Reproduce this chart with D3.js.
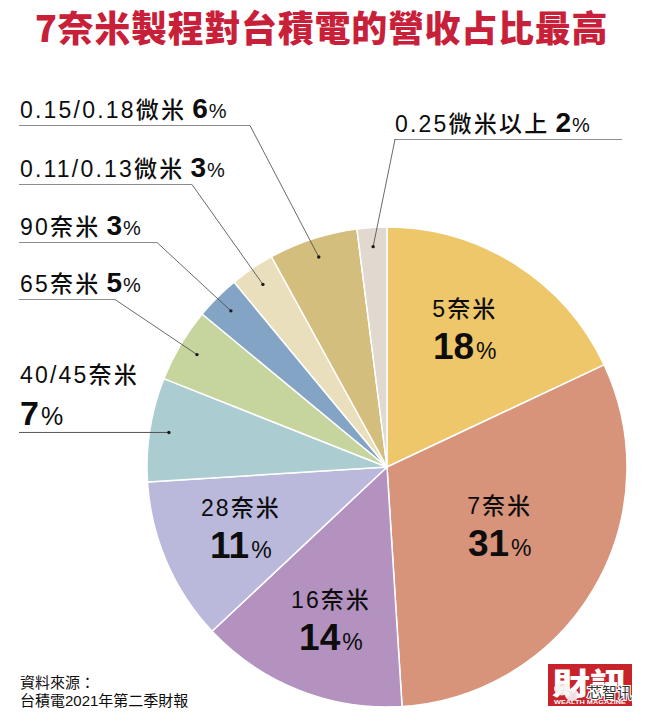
<!DOCTYPE html>
<html>
<head>
<meta charset="utf-8">
<script src="https://cdn.jsdelivr.net/npm/d3@7"></script>
<style>
body{margin:0;background:#fff;}
svg{display:block;}
.lbl{font-family:"Liberation Sans","Noto Sans CJK TC",sans-serif;fill:#0d0d0d;}
</style>
</head>
<body>
<svg id="chart" width="654" height="722"></svg>
<script>
// data-------------------------------------------
var title='7奈米製程對台積電的營收占比最高';
var categories=['5奈米','7奈米','16奈米','28奈米','40/45奈米','65奈米','90奈米','0.11/0.13微米','0.15/0.18微米','0.25微米以上'];
var shares=[18,31,14,11,7,5,3,3,6,2];
var sourceLines=['資料來源：','台積電2021年第二季財報'];

// styles
var sliceColors=['#EDC76A','#D8937B','#B392BF','#BAB9DC','#ABCCD0','#C6D49D','#83A4C4','#E9DFBC','#D3BE7E','#E1D9CF'];

// layout of the labels (by slice index)
var innerLayout=[
  {i:0,r:0.66,da:-3},
  {i:1,r:0.53,da:-3},
  {i:2,r:0.68,da:-1.5},
  {i:3,r:0.66,da:0.7}
];
var outerLayout=[
  {i:8,x:20,y:118,elbow:250},
  {i:7,x:20,y:177,elbow:192},
  {i:6,x:20,y:235,elbow:157},
  {i:5,x:20,y:292,elbow:115},
  {i:4,x:20,y:383,twoLines:true},
  {i:9,x:395,y:132,elbow:395,lineEnd:622}
];

// dom + geometry
var cx=387,cy=467,radius=240;
var svg=d3.select('#chart');

svg.append('text')
  .attr('x',35).attr('y',42)
  .attr('font-family','"Noto Sans CJK TC",sans-serif')
  .attr('font-weight',900)
  .attr('font-size',36)
  .attr('letter-spacing',0.7)
  .attr('fill','#C9203A')
  .text(title);

var g=svg.append('g').attr('transform',`translate(${cx},${cy})`);

var pie=d3.pie().sort(null).value(d=>d);
var arcs=pie(shares);
var arc=d3.arc().innerRadius(0).outerRadius(radius);

g.selectAll('path.slice')
  .data(arcs)
  .join('path')
  .attr('class','slice')
  .attr('d',arc)
  .attr('fill',(d,i)=>sliceColors[i])
  .attr('stroke','#fff')
  .attr('stroke-width',1.5)
  .attr('stroke-linejoin','round');

//polar point in page coords
function polar(d,rr,da){
  var a=(d.startAngle+d.endAngle)/2+(da||0)*Math.PI/180;
  return [cx+Math.sin(a)*rr,cy-Math.cos(a)*rr];
}

// inner labels-----------------------------------
innerLayout.forEach(function(l){
  var d=arcs[l.i];
  var p=polar(d,radius*l.r,l.da);
  svg.append('text').attr('class','lbl')
    .attr('x',p[0]).attr('y',p[1]-12)
    .attr('text-anchor','middle')
    .attr('font-size',23)
    .attr('font-weight',500)
    .attr('letter-spacing',2)
    .text(categories[l.i]);
  var num=svg.append('text').attr('class','lbl')
    .attr('x',p[0]).attr('y',p[1]+30)
    .attr('text-anchor','middle');
  num.append('tspan').attr('font-size',37).attr('font-weight','bold').text(shares[l.i]);
  num.append('tspan').attr('font-size',23).attr('dx',2).text('%');
});

// outer labels with leader lines-----------------
outerLayout.forEach(function(l){
  var d=arcs[l.i];
  var dot=polar(d,radius*0.92);
  var t=svg.append('text').attr('class','lbl')
    .attr('x',l.x).attr('y',l.y);
  t.append('tspan').attr('font-size',23).attr('font-weight',500).attr('letter-spacing',2.2).text(categories[l.i]);
  if(l.twoLines){
    var t2=svg.append('text').attr('class','lbl').attr('x',l.x).attr('y',l.y+42);
    t2.append('tspan').attr('font-size',34).attr('font-weight','bold').text(shares[l.i]);
    t2.append('tspan').attr('font-size',25).attr('dx',2).text('%');
    svg.append('line')
      .attr('x1',l.x-1).attr('x2',dot[0])
      .attr('y1',dot[1]).attr('y2',dot[1])
      .attr('stroke','#444').attr('stroke-width',0.9);
  }else{
    t.append('tspan').attr('font-size',28).attr('font-weight','bold').attr('dx',6).text(shares[l.i]);
    t.append('tspan').attr('font-size',20).attr('dx',1).text('%');
    var uy=l.y+7.5;
    svg.append('line')
      .attr('x1',l.x-1).attr('x2',l.lineEnd||l.elbow)
      .attr('y1',uy).attr('y2',uy)
      .attr('stroke','#8c8c8c').attr('stroke-width',1);
    svg.append('line')
      .attr('x1',l.elbow).attr('y1',uy)
      .attr('x2',dot[0]).attr('y2',dot[1])
      .attr('stroke','#444').attr('stroke-width',0.8);
  }
  svg.append('circle')
    .attr('cx',dot[0]).attr('cy',dot[1]).attr('r',1.7)
    .attr('fill','#1a1a1a');
});

// source note------------------------------------
svg.selectAll('text.src')
  .data(sourceLines)
  .join('text')
  .attr('class','src lbl')
  .attr('x',20)
  .attr('y',(d,i)=>688+i*18)
  .attr('font-size',15)
  .attr('fill','#222')
  .text(d=>d);

// logo + watermark-------------------------------
var logo=svg.append('g').attr('transform','translate(548,664)');
logo.append('rect').attr('width',84).attr('height',42).attr('fill','#C8222B');
logo.append('text')
  .attr('x',42).attr('y',30)
  .attr('text-anchor','middle')
  .attr('font-family','"Noto Sans CJK TC",sans-serif')
  .attr('font-weight',900)
  .attr('font-size',30)
  .attr('textLength',76).attr('lengthAdjust','spacingAndGlyphs')
  .attr('fill','#fff')
  .text('財訊');
logo.append('text')
  .attr('x',42).attr('y',39.5)
  .attr('text-anchor','middle')
  .attr('font-family','"Liberation Sans",sans-serif')
  .attr('font-weight','bold')
  .attr('font-size',5.5)
  .attr('textLength',72).attr('lengthAdjust','spacingAndGlyphs')
  .attr('fill','#fff')
  .text('WEALTH MAGAZINE');

// wechat bubble + watermark text
logo.append('ellipse').attr('cx',14).attr('cy',25).attr('rx',8).attr('ry',6.5).attr('fill','#f4f4f4').attr('opacity',0.9);
logo.append('ellipse').attr('cx',24).attr('cy',31).attr('rx',7).attr('ry',6).attr('fill','#f4f4f4').attr('opacity',0.9);
logo.append('text')
  .attr('x',39).attr('y',34)
  .attr('font-family','"Noto Sans CJK SC",sans-serif')
  .attr('font-size',15)
  .attr('fill','#333')
  .attr('stroke','#fff').attr('stroke-width',2.2)
  .attr('paint-order','stroke')
  .text('芯智讯');
</script>
</body>
</html>
